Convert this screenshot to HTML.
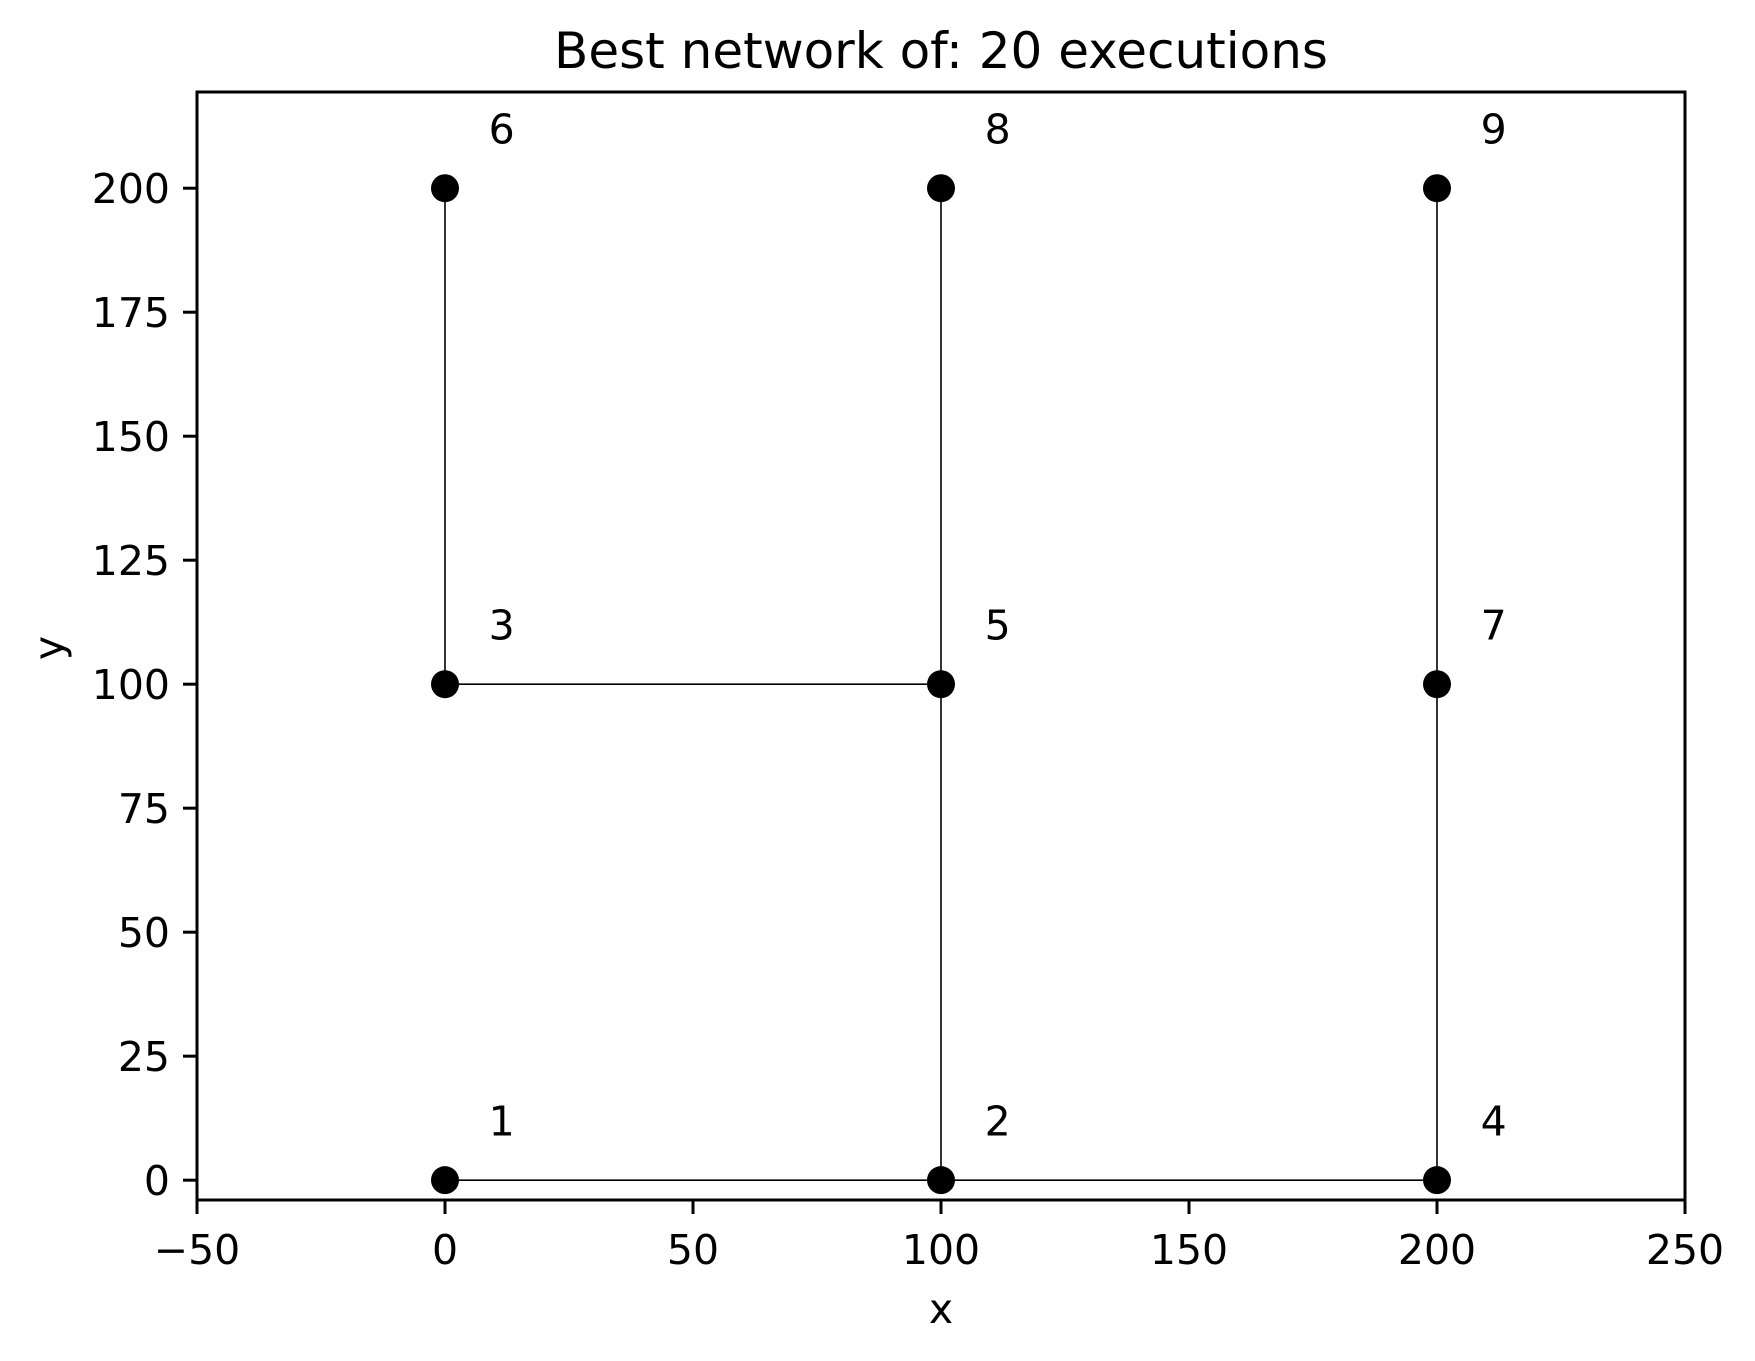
<!DOCTYPE html>
<html><head><meta charset="utf-8"><style>
html,body{margin:0;padding:0;background:#fff;}
svg{display:block;font-family:"DejaVu Sans","Liberation Sans",sans-serif;}
</style></head><body>
<svg id="chart" width="1755" height="1361" viewBox="0 0 1755 1361">
<rect width="1755" height="1361" fill="#fff"/>
<text x="941" y="68" font-size="50" text-anchor="middle">Best network of: 20 executions</text>
<text x="941" y="1323" font-size="41" text-anchor="middle">x</text>
<text transform="translate(63,648) rotate(-90)" font-size="41" text-anchor="middle">y</text>
<g id="edges"></g><g id="nodes"></g><g id="labels"></g><g id="ticks"></g>
<rect x="197" y="92" width="1488" height="1108" fill="none" stroke="#000" stroke-width="3"/>
</svg>
<script>
const nodeIds=[1,2,3,4,5,6,7,8,9];
const nodeX=[0,100,0,200,100,0,200,100,200];
const nodeY=[0,0,100,0,100,200,100,200,200];
const edgeFrom=[1,2,3,5,6,8,4,7];
const edgeTo=[2,4,5,2,3,5,7,9];
const xTicks=[-50,0,50,100,150,200,250];
const yTicks=[0,25,50,75,100,125,150,175,200];
const xMin=-50,xMax=250,yMin=-4,yMax=219.4;
const L=197,R=1685,T=92,B=1200;
const sx=v=>L+(v-xMin)/(xMax-xMin)*(R-L);
const sy=v=>B-(v-yMin)/(yMax-yMin)*(B-T);
const NS='http://www.w3.org/2000/svg';
function mk(t,a){const e=document.createElementNS(NS,t);for(const k in a)e.setAttribute(k,a[k]);return e;}
const gE=document.getElementById('edges'),gN=document.getElementById('nodes'),gL=document.getElementById('labels'),gT=document.getElementById('ticks');
edgeFrom.forEach((f,i)=>{const a=nodeIds.indexOf(f),b=nodeIds.indexOf(edgeTo[i]);
const l=mk('line',{x1:sx(nodeX[a]),y1:sy(nodeY[a]),x2:sx(nodeX[b]),y2:sy(nodeY[b]),stroke:'#000','stroke-width':1.6});


gE.appendChild(l);});
nodeIds.forEach((id,i)=>{
const c=mk('circle',{cx:sx(nodeX[i]),cy:sy(nodeY[i]),r:14,fill:'#000'});


gN.appendChild(c);
const t=mk('text',{x:sx(nodeX[i]+10)-6,y:sy(nodeY[i]+10)+5,'font-size':41});
t.textContent=id;


gL.appendChild(t);});
xTicks.forEach(v=>{const x=sx(v);
const m=mk('line',{x1:x,y1:B,x2:x,y2:B+14,stroke:'#000','stroke-width':3});


gT.appendChild(m);
const t=mk('text',{x:x,y:1264,'font-size':41,'text-anchor':'middle'});
t.textContent=v<0?'\u2212'+Math.abs(v):v;


gT.appendChild(t);});
yTicks.forEach(v=>{const y=sy(v);
const m=mk('line',{x1:L-14,y1:y,x2:L,y2:y,stroke:'#000','stroke-width':3});


gT.appendChild(m);
const t=mk('text',{x:L-27,y:y+15,'font-size':41,'text-anchor':'end'});
t.textContent=v;


gT.appendChild(t);});
</script>
</body></html>
